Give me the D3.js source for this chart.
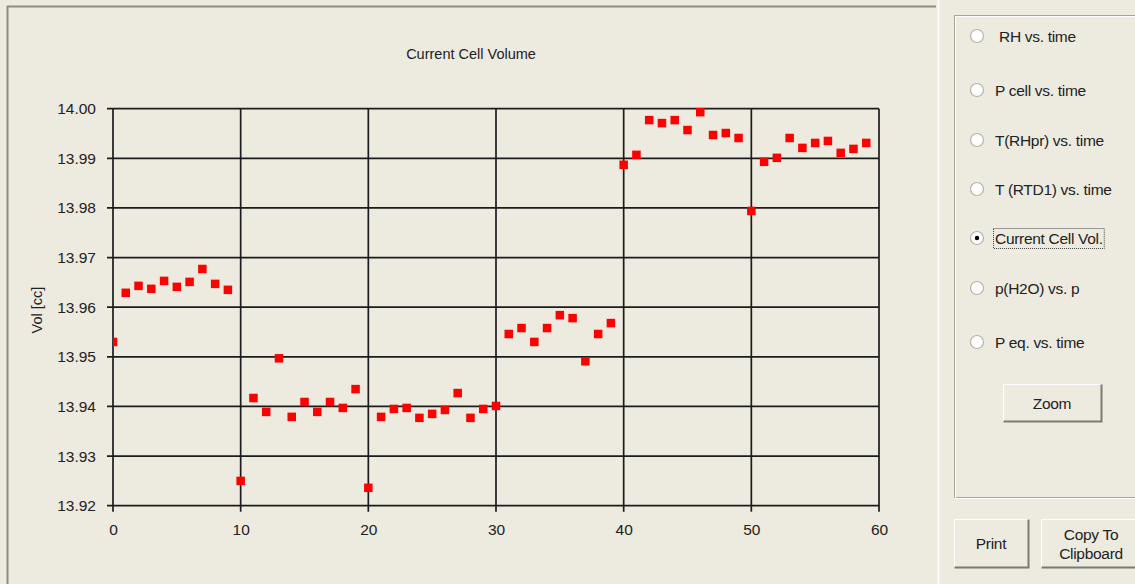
<!DOCTYPE html>
<html>
<head>
<meta charset="utf-8">
<script src="https://cdn.jsdelivr.net/npm/d3@7"></script>
<style>
  body { margin: 0; background: #edeae0; }
  svg { display: block; font-family: "Liberation Sans", Arial, sans-serif; }
</style>
</head>
<body>
<svg id="vis"></svg>
<script>
// data
var times = [0,1,2,3,4,5,6,7,8,9,10,11,12,13,14,15,16,17,18,19,20,21,22,23,24,25,26,27,28,29,
  30,31,32,33,34,35,36,37,38,39,40,41,42,43,44,45,46,47,48,49,50,51,52,53,54,55,56,57,58,59];
var volumes = [13.9530,13.9629,13.9643,13.9637,13.9653,13.9641,13.9651,13.9677,13.9647,13.9635,
  13.9250,13.9417,13.9389,13.9497,13.9379,13.9409,13.9389,13.9409,13.9397,13.9435,
  13.9236,13.9379,13.9395,13.9397,13.9377,13.9385,13.9393,13.9427,13.9377,13.9395,
  13.9401,13.9546,13.9558,13.9530,13.9558,13.9584,13.9578,13.9491,13.9546,13.9568,
  13.9887,13.9907,13.9977,13.9971,13.9977,13.9957,13.9993,13.9947,13.9951,13.9941,
  13.9794,13.9893,13.9901,13.9941,13.9921,13.9931,13.9935,13.9911,13.9919,13.9931];
var xTicks = [0, 10, 20, 30, 40, 50, 60];
var yTicks = [13.92, 13.93, 13.94, 13.95, 13.96, 13.97, 13.98, 13.99, 14.00];
var plotOptions = ["RH vs. time", "P cell vs. time", "T(RHpr) vs. time", "T (RTD1) vs. time",
  "Current Cell Vol.", "p(H2O) vs. p", "P eq. vs. time"];
var selectedOption = "Current Cell Vol.";

(function() {
  var width = 1135, height = 584;
  var chart = d3.select("#vis").attr("width", width).attr("height", height);

  // left sunken panel
  chart.append("line").attr("x1", 7).attr("x2", 936).attr("y1", 6.5).attr("y2", 6.5)
    .attr("stroke", "#8e8b7f").attr("stroke-width", 2);
  chart.append("line").attr("x1", 7.5).attr("x2", 7.5).attr("y1", 6).attr("y2", height)
    .attr("stroke", "#8e8b7f").attr("stroke-width", 2);
  chart.append("line").attr("x1", 938.5).attr("x2", 938.5).attr("y1", 0).attr("y2", height)
    .attr("stroke", "#ffffff").attr("stroke-width", 1.5);

  var left = 113, right = 879, top = 108.7, bottom = 505.7;

  var x = d3.scaleLinear().domain([0, 60]).range([left, right]);
  var y = d3.scaleLinear().domain([13.92, 14.00]).range([bottom, top]);

  chart.append("text")
    .attr("x", 471).attr("y", 59)
    .attr("text-anchor", "middle").attr("font-size", 14.5).attr("fill", "#222")
    .text("Current Cell Volume");

  // grid
  var gridColor = "#1c1c1c";
  chart.append("g").selectAll("line").data(yTicks).enter().append("line")
    .attr("x1", left - 6).attr("x2", right)
    .attr("y1", function(d) { return y(d); }).attr("y2", function(d) { return y(d); })
    .attr("stroke", gridColor).attr("stroke-width", 1.7);
  chart.append("g").selectAll("line").data(xTicks).enter().append("line")
    .attr("y1", top).attr("y2", bottom + 6)
    .attr("x1", function(d) { return x(d); }).attr("x2", function(d) { return x(d); })
    .attr("stroke", gridColor).attr("stroke-width", 1.7);

  // axes labels through d3 axes
  var yAxis = chart.append("g").attr("transform", "translate(" + (left - 6) + ",0)")
    .call(d3.axisLeft(y).tickValues(yTicks).tickFormat(d3.format(".2f")).tickSize(0).tickPadding(11));
  var xAxis = chart.append("g").attr("transform", "translate(0," + (bottom + 6) + ")")
    .call(d3.axisBottom(x).tickValues(xTicks).tickSize(0).tickPadding(9));
  [yAxis, xAxis].forEach(function(a) {
    a.select(".domain").remove();
    a.selectAll("text").attr("font-family", "Liberation Sans, Arial, sans-serif")
      .attr("font-size", 15.5).attr("fill", "#222");
  });
  xAxis.selectAll("text").attr("dy", "0.9em");

  chart.append("text")
    .attr("transform", "translate(42,310) rotate(-90)")
    .attr("text-anchor", "middle").attr("font-size", 14.5).attr("fill", "#222")
    .text("Vol [cc]");

  // markers, clipped to the plot area
  chart.append("clipPath").attr("id", "plotclip").append("rect")
    .attr("x", left).attr("y", top - 5).attr("width", right - left + 5).attr("height", bottom - top + 10);
  var ms = 8.5;
  chart.append("g").attr("clip-path", "url(#plotclip)")
    .selectAll("rect").data(times).enter().append("rect")
    .attr("x", function(d) { return x(d) - ms / 2; })
    .attr("y", function(d, i) { return y(volumes[i]) - ms / 2; })
    .attr("width", ms).attr("height", ms)
    .attr("fill", "#ff0000");

  // right group box
  chart.append("rect").attr("x", 954.5).attr("y", 15.5).attr("width", 200).attr("height", 482)
    .attr("fill", "none").attr("stroke", "#a9a697").attr("stroke-width", 1);
  chart.append("rect").attr("x", 955.5).attr("y", 16.5).attr("width", 200).attr("height", 482)
    .attr("fill", "none").attr("stroke", "#ffffff").attr("stroke-width", 1);

  var optY = [36, 90, 140, 189, 238, 288, 342];
  var opts = chart.append("g").selectAll("g").data(plotOptions).enter().append("g")
    .attr("transform", function(d, i) { return "translate(977," + optY[i] + ")"; });
  opts.append("circle").attr("r", 6.5).attr("fill", "#ffffff")
    .attr("stroke", "#b5b2a6").attr("stroke-width", 1.2);
  opts.filter(function(d) { return d === selectedOption; }).append("circle")
    .attr("r", 2.2).attr("fill", "#000");
  opts.append("text")
    .attr("x", function(d, i) { return i === 0 ? 22 : 18; }).attr("y", 5.5)
    .attr("font-size", 15.5).attr("fill", "#222")
    .attr("letter-spacing", -0.3)
    .text(function(d) { return d; });
  opts.filter(function(d) { return d === selectedOption; }).each(function() {
    var t = d3.select(this).select("text").node().getBBox();
    d3.select(this).insert("rect", "text")
      .attr("x", t.x - 1.5).attr("y", -9.5).attr("width", t.width + 3).attr("height", 20)
      .attr("fill", "none").attr("stroke", "#444").attr("stroke-width", 1)
      .attr("stroke-dasharray", "1,1");
  });

  // buttons
  function button(bx, by, bw, bh, lines) {
    var g = chart.append("g");
    g.append("rect").attr("x", bx + 0.5).attr("y", by + 0.5).attr("width", bw).attr("height", bh)
      .attr("fill", "#edeae0").attr("stroke", "#ffffff");
    g.append("path")
      .attr("d", "M" + (bx + 0.5) + "," + (by + bh + 0.5) + "H" + (bx + bw + 0.5) + "V" + (by + 0.5))
      .attr("fill", "none").attr("stroke", "#7d7a70").attr("stroke-width", 2);
    var lh = 19;
    g.selectAll("text").data(lines).enter().append("text")
      .attr("x", bx + bw / 2)
      .attr("y", function(d, i) { return by + bh / 2 + 6 + (i - (lines.length - 1) / 2) * lh; })
      .attr("text-anchor", "middle").attr("font-size", 15.5).attr("fill", "#222")
      .attr("letter-spacing", -0.3)
      .text(function(d) { return d; });
  }
  button(1003, 384, 98, 37, ["Zoom"]);
  button(954, 519, 74, 48, ["Print"]);
  button(1041, 519, 100, 48, ["Copy To", "Clipboard"]);
}());
</script>
</body>
</html>
